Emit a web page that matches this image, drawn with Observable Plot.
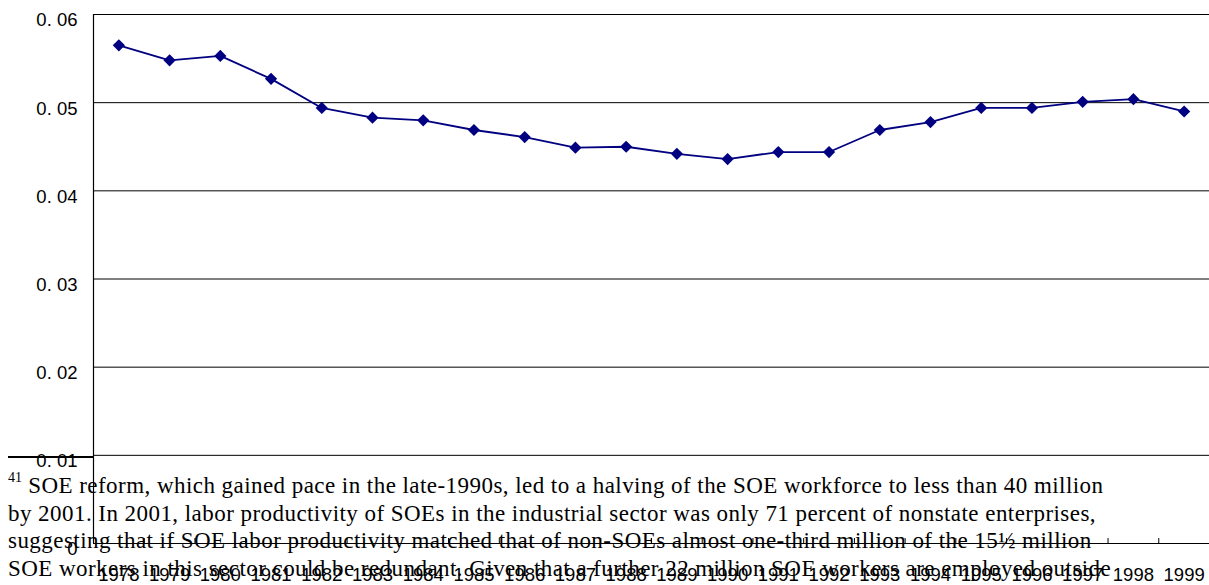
<!DOCTYPE html>
<html><head><meta charset="utf-8">
<script src="https://cdn.jsdelivr.net/npm/d3@7"></script>
<script src="https://cdn.jsdelivr.net/npm/@observablehq/plot@0.6"></script>
<style>
body{margin:0;background:#fff;}
#wrap{position:relative;width:1209px;height:585px;overflow:hidden;background:#fff;}
#note{position:absolute;left:8px;top:472px;font-family:"Liberation Serif","Times New Roman","DejaVu Serif",serif;font-size:23px;letter-spacing:0.45px;line-height:27.6px;color:#000;white-space:pre;}
#note .sup{font-size:14px;vertical-align:11px;line-height:0;letter-spacing:0;}
#sep{position:absolute;left:8px;top:456px;width:85px;height:0;border-top:2px solid #000;}
#chart svg{position:absolute;left:0;top:0;}
</style>
</head><body>
<div id="wrap">
<div id="note"><span class="sup">41</span> SOE reform, which gained pace in the late-1990s, led to a halving of the SOE workforce to less than 40 million
by 2001. In 2001, labor productivity of SOEs in the industrial sector was only 71 percent of nonstate enterprises,
suggesting that if SOE labor productivity matched that of non-SOEs almost one-third million of the 15½ million
SOE workers in this sector could be redundant. Given that a further 22 million SOE workers are employed outside</div>
<div id="sep"></div>
<div id="chart"></div>
</div>
<script>
const years = [1978,1979,1980,1981,1982,1983,1984,1985,1986,1987,1988,1989,1990,1991,1992,1993,1994,1995,1996,1997,1998,1999];
const values = [0.0565,0.0548,0.0553,0.0527,0.0494,0.0483,0.0480,0.0469,0.0461,0.0449,0.0450,0.0442,0.0436,0.0444,0.0444,0.0469,0.0478,0.0494,0.0494,0.0501,0.0504,0.0490];
const yTicks = [0,0.01,0.02,0.03,0.04,0.05,0.06];

const data = years.map((year, i) => ({year, value: values[i]}));
const xMin = years[0] - 0.5, xMax = years[years.length - 1] + 0.5;
const edges = years.map(y => y - 0.5).concat([xMax]);
const fmtY = d => d === 0 ? "0" : d.toFixed(2).replace(".", ". ");

const chart = Plot.plot({
  width: 1209, height: 585,
  marginLeft: 93, marginRight: 0, marginTop: 14, marginBottom: 42,
  x: {domain: [xMin, xMax]},
  y: {domain: [0, 0.06]},
  style: {fontFamily: '"Liberation Sans", Arial, sans-serif', fontSize: "18.5px", color: "#000", background: "transparent", overflow: "visible"},
  marks: [
    Plot.gridY(yTicks.filter(d => d > 0), {stroke: "#000", strokeOpacity: 1, strokeWidth: 1}),
    Plot.ruleY([0], {stroke: "#000", strokeWidth: 1.2}),
    Plot.ruleX([xMin], {stroke: "#000", strokeWidth: 1.2}),
    Plot.ruleX(edges, {x: d => d, y1: 0, y2: 0, insetTop: -5, stroke: "#000"}),
    Plot.axisY(yTicks, {tickSize: 0, tickPadding: 16, dy: 6, tickFormat: fmtY, label: null}),
    Plot.axisX(years, {tickSize: 0, tickPadding: 24, tickFormat: d => String(d), label: null}),
    Plot.line(data, {x: "year", y: "value", stroke: "#000080", strokeWidth: 1.8}),
    Plot.dot(data, {x: "year", y: "value", symbol: "diamond2", r: 5.5, fill: "#000080", stroke: "none"})
  ]
});
document.getElementById("chart").appendChild(chart);
</script>
</body></html>
